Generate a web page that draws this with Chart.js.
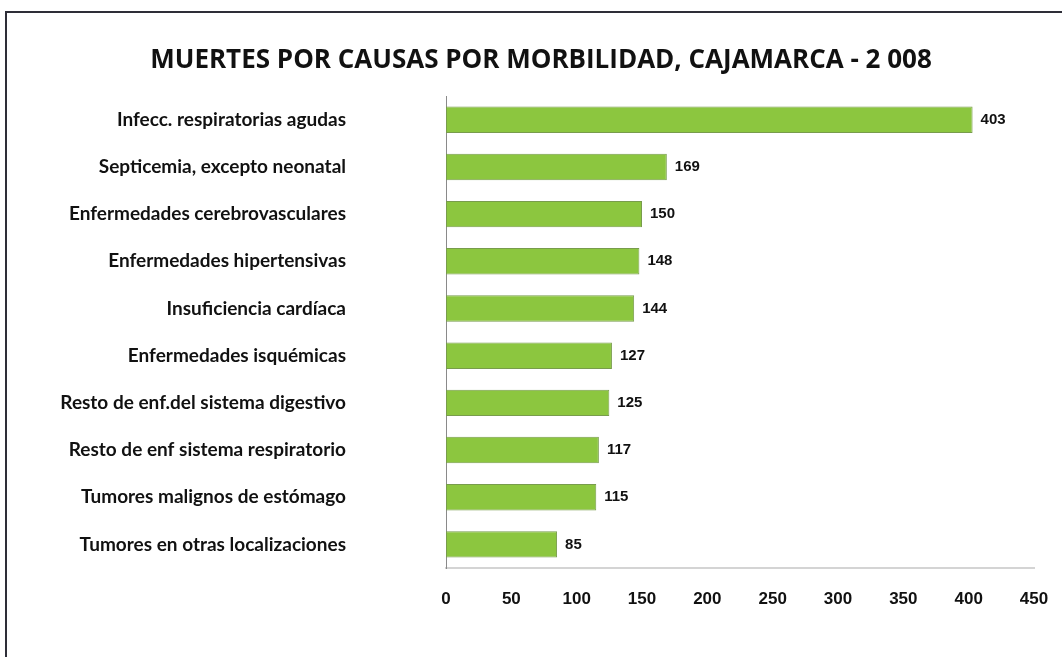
<!DOCTYPE html>
<html>
<head>
<meta charset="utf-8">
<script src="https://cdn.jsdelivr.net/npm/chart.js@4/dist/chart.umd.min.js"></script>
<style>
    html, body { margin: 0; padding: 0; background: #fff; overflow: hidden; }
    #frame {
        position: absolute; left: 5px; top: 11px; width: 1100px; height: 700px;
        border-top: 2px solid #2e2e38; border-left: 2px solid #2e2e38;
    }
    #wrap { position: absolute; left: 0; top: 0; width: 1062px; height: 657px; }
</style>
</head>
<body>
<div id="frame"></div>
<div id="wrap"><canvas id="muertes-chart" width="1062" height="657"></canvas></div>
<script>
const causas = [
    'Infecc. respiratorias agudas',
    'Septicemia, excepto neonatal',
    'Enfermedades cerebrovasculares',
    'Enfermedades hipertensivas',
    'Insuficiencia cardíaca',
    'Enfermedades isquémicas',
    'Resto de enf.del sistema digestivo',
    'Resto de enf sistema respiratorio',
    'Tumores malignos de estómago',
    'Tumores en otras localizaciones'
];
const muertes = [403, 169, 150, 148, 144, 127, 125, 117, 115, 85];
const ejeX = [0, 50, 100, 150, 200, 250, 300, 350, 400, 450];
const titulo = 'MUERTES POR CAUSAS POR MORBILIDAD, CAJAMARCA - 2 008';

// numbers right of each bar
const valueLabels = {
    id: 'valueLabels',
    afterDatasetsDraw(chart) {
        const ctx = chart.ctx;
        const meta = chart.getDatasetMeta(0);
        ctx.save();
        ctx.font = 'bold 15px "Liberation Sans", Arial, sans-serif';
        ctx.fillStyle = '#111';
        ctx.textAlign = 'left';
        ctx.textBaseline = 'middle';
        meta.data.forEach((bar, i) => {
            ctx.fillText(String(muertes[i]), bar.x + 8, bar.y);
        });
        ctx.restore();
    }
};

const ctx = document.getElementById('muertes-chart').getContext('2d');

window.muertesChart = new Chart(ctx, {
    type: 'bar',
    data: {
        labels: causas,
        datasets: [{
            data: muertes,
            backgroundColor: '#8cc63f',
            borderColor: '#789c4c',
            borderWidth: 1,
            borderSkipped: false,
            categoryPercentage: 1,
            barPercentage: 0.56
        }]
    },
    options: {
        indexAxis: 'y',
        responsive: false,
        animation: false,
        layout: { padding: { top: 12, right: 28, bottom: 0, left: 48 } },
        plugins: {
            legend: { display: false },
            tooltip: { enabled: false },
            title: {
                display: true,
                text: titulo,
                color: '#111',
                font: { family: '"Open Sans"', weight: 'bold', size: 26 },
                padding: { top: 33, bottom: 20 }
            }
        },
        scales: {
            x: {
                min: 0,
                max: 450,
                afterBuildTicks: (scale) => { scale.ticks = ejeX.map(v => ({value: v})); },
                afterFit: (scale) => {
                    scale.height = 89;
                    scale.paddingLeft = 0;
                    scale.paddingRight = 0;
                },
                grid: { display: false, drawTicks: false },
                border: { display: true, color: '#d4d4d4', width: 2 },
                ticks: {
                    color: '#111',
                    padding: 21,
                    font: { family: '"Liberation Sans", Arial, sans-serif', weight: 'bold', size: 17 }
                }
            },
            y: {
                afterFit: (scale) => {
                    scale.width = 398;
                    scale.paddingTop = 0;
                    scale.paddingBottom = 0;
                },
                grid: { display: false, drawTicks: false },
                border: { display: true, color: '#8a8a8a', width: 1 },
                ticks: {
                    color: '#111',
                    padding: 100,
                    font: { family: 'Lato', weight: 'bold', size: 19 }
                }
            }
        }
    },
    plugins: [valueLabels]
});
</script>
</body>
</html>
